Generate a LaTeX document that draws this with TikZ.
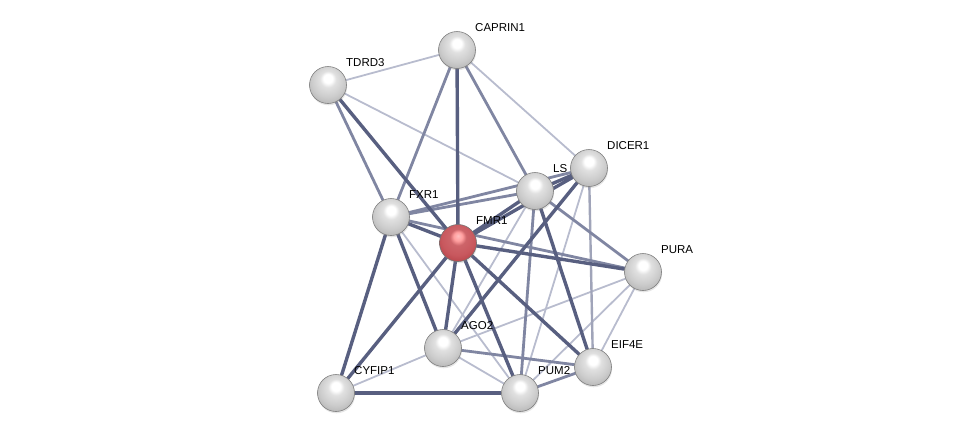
\documentclass[tikz,border=0pt]{standalone}
\usepackage{fontspec}
\setmainfont{Liberation Sans}
\usetikzlibrary{shadows}
\pgfdeclarelayer{bg}
\pgfsetlayers{bg,main}
\definecolor{estrong}{RGB}{88,95,128}
\definecolor{emed}{RGB}{128,134,162}
\definecolor{elight}{RGB}{184,188,206}
\pgfdeclareradialshading{greysphere}{\pgfpoint{0bp}{10bp}}{%
 color(0bp)=(white); color(6bp)=(white); color(11bp)=(black!12); color(22bp)=(black!20); color(30bp)=(black!28); color(33bp)=(black!45); color(35bp)=(black!60); color(50bp)=(black!60)}
\pgfdeclareradialshading{redsphere}{\pgfpoint{0bp}{10bp}}{%
 color(0bp)=(white!75!red); color(6bp)=(white!62!red); color(11bp)=({rgb,255:red,205;green,100;blue,105}); color(22bp)=({rgb,255:red,200;green,88;blue,94}); color(30bp)=({rgb,255:red,185;green,70;blue,76}); color(33bp)=({rgb,255:red,150;green,50;blue,55}); color(35bp)=({rgb,255:red,115;green,38;blue,42}); color(50bp)=({rgb,255:red,115;green,38;blue,42})}
\tikzset{
 prot/.style={circle, minimum size=37pt, inner sep=0pt, draw=black!50, line width=0.6pt,
   shade, shading=greysphere, drop shadow={opacity=0.2, shadow xshift=0.6pt, shadow yshift=-1.8pt}},
 qprot/.style={prot, shading=redsphere, draw=black!55},
 lbl/.style={anchor=west, inner sep=0pt, font=\fontsize{11.5}{13}\selectfont, text=black},
 strong/.style={draw=estrong, line width=3.4pt},
 med/.style={draw=emed, line width=2.8pt},
 lmed/.style={draw=emed!75!white, line width=2.4pt},
 light/.style={draw=elight, line width=1.8pt}
}
\begin{document}
\begin{tikzpicture}[x=1pt,y=-1pt]
\useasboundingbox (0,0) rectangle (975,440);
\node[prot] (T) at (328,85) {};
\node[lbl] (lT) at ([shift={(18pt,22pt)}]T.center) {TDRD3};
\node[prot] (C) at (457,50) {};
\node[lbl] (lC) at ([shift={(18pt,22pt)}]C.center) {CAPRIN1};
\node[prot] (L) at (535,191) {};
\node[lbl] (lL) at ([shift={(18pt,22pt)}]L.center) {LS};
\node[prot] (D) at (589,168) {};
\node[lbl] (lD) at ([shift={(18pt,22pt)}]D.center) {DICER1};
\node[prot] (X) at (391,217) {};
\node[lbl] (lX) at ([shift={(18pt,22pt)}]X.center) {FXR1};
\node[qprot] (F) at (458,243) {};
\node[lbl] (lF) at ([shift={(18pt,22pt)}]F.center) {FMR1};
\node[prot] (P) at (643,272) {};
\node[lbl] (lP) at ([shift={(18pt,22pt)}]P.center) {PURA};
\node[prot] (A) at (443,348) {};
\node[lbl] (lA) at ([shift={(18pt,22pt)}]A.center) {AGO2};
\node[prot] (E) at (593,367) {};
\node[lbl] (lE) at ([shift={(18pt,22pt)}]E.center) {EIF4E};
\node[prot] (U) at (520,393) {};
\node[lbl] (lU) at ([shift={(18pt,22pt)}]U.center) {PUM2};
\node[prot] (Y) at (336,393) {};
\node[lbl] (lY) at ([shift={(18pt,22pt)}]Y.center) {CYFIP1};
\begin{pgfonlayer}{bg}
% light
\draw[light] (T.center) -- (C.center);
\draw[light] (T.center) -- (L.center);
\draw[light] (C.center) -- (D.center);
\draw[light] (L.center) -- (A.center);
\draw[light] (A.center) -- (P.center);
\draw[light] (A.center) -- (U.center);
\draw[light] (Y.center) -- (A.center);
\draw[light] (X.center) -- (U.center);
\draw[light] (D.center) -- (U.center);
\draw[light] (P.center) -- (E.center);
\draw[light] (P.center) -- (U.center);
% light-medium
\draw[lmed] (D.center) -- (E.center);
% medium
\draw[med] (T.center) -- (X.center);
\draw[med] (C.center) -- (X.center);
\draw[med] (C.center) -- (L.center);
\draw[med] (X.center) -- (L.center);
\draw[med] (X.center) -- (D.center);
\draw[med] (L.center) -- (P.center);
\draw[med] (L.center) -- (U.center);
\draw[med] (A.center) -- (E.center);
\draw[med] (U.center) -- (E.center);
\draw[med] (X.center) -- (P.center);
% strong
\draw[strong] (T.center) -- (F.center);
\draw[strong] (C.center) -- (F.center);
\draw[strong] (F.center) -- (L.center);
\draw[strong] (F.center) -- (D.center);
\draw[strong] (X.center) -- (F.center);
\draw[strong] (A.center) -- (D.center);
\draw[strong] (Y.center) -- (F.center);
\draw[strong] (F.center) -- (A.center);
\draw[strong] (F.center) -- (U.center);
\draw[strong] (F.center) -- (E.center);
\draw[strong] (L.center) -- (E.center);
\draw[strong] (X.center) -- (A.center);
\draw[strong] (Y.center) -- (X.center);
\draw[strong] (Y.center) -- (U.center);
\draw[strong] (L.center) -- (D.center);
\draw[strong] (F.center) -- (P.center);
\end{pgfonlayer}
\end{tikzpicture}
\end{document}
